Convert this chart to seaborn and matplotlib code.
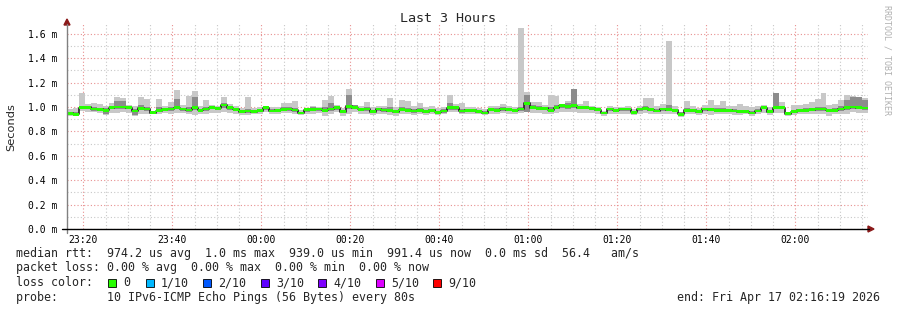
import numpy as np
import pandas as pd
import matplotlib
matplotlib.use("Agg")
import matplotlib.pyplot as plt
import seaborn as sns
from matplotlib.lines import Line2D
from matplotlib.patches import Polygon, Rectangle
from matplotlib.ticker import FixedLocator, MultipleLocator

# ---------------- data (microseconds, one value per 80 s step) ----------------
step_s = 80
median_us = [
    948, 940, 995, 997, 984, 981, 973, 995, 1000, 1000,
    995, 967, 989, 984, 954, 970, 981, 984, 995, 984,
    975, 995, 973, 984, 995, 989, 1016, 995, 981, 962,
    967, 962, 970, 995, 967, 973, 981, 984, 975, 951,
    978, 981, 984, 973, 984, 995, 962, 1005, 995, 981,
    984, 962, 984, 975, 970, 962, 978, 973, 967, 973,
    962, 973, 956, 967, 995, 995, 967,
    973, 973, 962, 951, 978, 973, 984, 978, 973, 984,
    1030, 995, 989, 989, 973, 995, 1011, 1005, 1011, 995,
    995, 989, 978, 951, 984, 973, 984, 984, 956, 984,
    989, 978, 967, 984, 978, 973, 940, 973, 973, 962,
    984, 978, 973, 973, 973, 967, 962, 962, 951, 967,
    995, 962, 995, 995, 945, 962, 973, 973, 978, 984,
    984, 973, 973, 984, 995, 1000, 995, 991,
]
ping_max_us = [
    981, 989, 1115, 1022, 1030, 1025, 1011, 1030, 1079, 1077,
    1016, 1005, 1079, 1066, 967, 1066, 1011, 1044, 1142, 1016,
    1093, 1131, 1011, 1060, 1016, 1011, 1082, 1022, 1011, 989,
    1079, 995, 1000, 1011, 1000, 1000, 1030, 1030, 1049, 973,
    995, 1011, 1000, 1057, 1093, 1016, 989, 1148, 1016, 1011,
    1044, 1000, 1011, 1011, 1071, 1000, 1057, 1049, 1011, 1030,
    1000, 1011, 989, 1000, 1098, 1022, 1030,
    1000, 1000, 989, 984, 1011, 1005, 1022, 1011, 1000, 1650,
    1120, 1038, 1038, 1016, 1098, 1093, 1022, 1049, 1148, 1022,
    1049, 1011, 1000, 967, 1005, 1000, 1000, 1011, 984, 1011,
    1071, 1071, 1005, 1022, 1540, 1011, 962, 1049, 1011, 995,
    1016, 1060, 1016, 1049, 1011, 1011, 1022, 1005, 1000, 1011,
    1016, 1000, 1115, 1044, 962, 1016, 1016, 1022, 1044, 1066,
    1115, 1016, 1022, 1060, 1098, 1087, 1082, 1071,
]
ping_min_us = [
    929, 923, 967, 962, 956, 951, 934, 951, 951, 956,
    951, 923, 945, 945, 940, 940, 951, 945, 951, 951,
    945, 934, 940, 945, 951, 951, 962, 951, 940, 934,
    934, 940, 940, 956, 945, 945, 951, 951, 945, 934,
    940, 940, 951, 923, 940, 962, 929, 940, 956, 945,
    940, 934, 945, 945, 934, 929, 945, 940, 934, 945,
    934, 945, 934, 940, 962, 956, 940,
    945, 945, 940, 934, 945, 945, 951, 945, 945, 951,
    962, 951, 951, 945, 940, 951, 962, 956, 962, 951,
    951, 951, 945, 929, 945, 940, 945, 945, 934, 945,
    951, 945, 940, 945, 945, 940, 918, 940, 940, 934,
    945, 934, 940, 940, 940, 934, 934, 940, 929, 940,
    951, 934, 951, 951, 923, 934, 945, 940, 940, 945,
    940, 929, 940, 945, 945, 956, 951, 951,
]
smoke_hi_us = [
    960, 955, 1010, 1010, 1000, 995, 990, 1005, 1049, 1049,
    1005, 985, 1020, 1000, 962, 1000, 990, 1000, 1066, 995,
    1000, 1082, 985, 1000, 1005, 1000, 1030, 1005, 990, 975,
    985, 975, 985, 1005, 980, 985, 1000, 1000, 990, 962,
    990, 1000, 995, 1000, 1030, 1005, 975, 1098, 1016, 995,
    1000, 975, 995, 990, 1000, 975, 1000, 995, 980, 990,
    975, 985, 970, 980, 1030, 1005, 985,
    985, 985, 975, 965, 990, 990, 1000, 990, 985, 1000,
    1098, 1016, 1005, 1000, 1000, 1016, 1022, 1030, 1148, 1011,
    1010, 1000, 990, 962, 995, 985, 995, 995, 970, 995,
    1010, 995, 985, 995, 1020, 985, 955, 990, 985, 975,
    995, 995, 990, 990, 985, 985, 975, 975, 965, 980,
    1011, 975, 1115, 1010, 955, 975, 985, 990, 995, 1000,
    1000, 985, 990, 1010, 1060, 1082, 1082, 1060,
]
smoke_lo_us = [
    938, 932, 980, 982, 970, 968, 940, 980, 984, 984,
    980, 934, 975, 970, 945, 958, 966, 970, 980, 968,
    962, 978, 960, 970, 980, 975, 995, 978, 968, 948,
    954, 950, 956, 978, 955, 960, 965, 970, 962, 940,
    962, 966, 970, 958, 968, 978, 948, 985, 980, 966,
    968, 950, 968, 962, 956, 948, 964, 960, 952, 958,
    948, 960, 944, 954, 978, 975, 954,
    960, 960, 950, 940, 965, 960, 970, 965, 960, 970,
    962, 980, 975, 975, 960, 980, 990, 985, 990, 980,
    980, 975, 965, 940, 970, 960, 970, 970, 945, 970,
    975, 965, 955, 970, 965, 960, 930, 960, 960, 950,
    970, 965, 960, 960, 960, 955, 950, 950, 940, 955,
    980, 950, 980, 980, 935, 950, 960, 960, 965, 970,
    970, 960, 960, 970, 975, 985, 980, 978,
]
assert len(median_us) == len(ping_max_us) == len(ping_min_us) == len(smoke_hi_us) == len(smoke_lo_us)

x_major_labels = ["23:20", "23:40", "00:00", "00:20", "00:40", "01:00", "01:20", "01:40", "02:00"]
first_label_s = 221          # 23:20:00 relative to start 23:16:19
span_s = 10800
y_ticks_ms = [0.0, 0.2, 0.4, 0.6, 0.8, 1.0, 1.2, 1.4, 1.6]

loss_labels = ["0", "1/10", "2/10", "3/10", "4/10", "5/10", "9/10"]
loss_colors = ["#26ff00", "#00b8ff", "#0059ff", "#5e00ff", "#7e00ff", "#dd00ff", "#ff0000"]

# ---------------- figure ----------------
sns.set_theme(style="white")
plt.rcParams["font.family"] = ["DejaVu Sans Mono", "DejaVu Sans"]

W, H = 897, 310
fig = plt.figure(figsize=(W / 100, H / 100), dpi=100)
fig.patch.set_facecolor("white")
L, R, T, B = 67, 868, 24, 229


def fx(x):
    return x / W


def fy(y):
    return 1 - y / H


ax = fig.add_axes([fx(L), fy(B), (R - L) / W, (B - T) / H])
ax.set_facecolor("white")

n = len(median_us)
t = np.arange(n + 1) * step_s


def ext(a):
    a = np.asarray(a, dtype=float) / 1000.0
    return np.append(a, a[-1])


med = ext(median_us)
ax.fill_between(t, ext(ping_min_us), ext(ping_max_us), step="post", color="#c8c8c8", lw=0, zorder=2)
ax.fill_between(t, ext(smoke_lo_us), ext(smoke_hi_us), step="post", color="#8c8c8c", lw=0, zorder=3)

df = pd.DataFrame({"t": t, "median": med})
sns.lineplot(data=df, x="t", y="median", drawstyle="steps-post", color="#202020", lw=1.2, ax=ax, zorder=4)
ax.fill_between(t, med - 0.011, med + 0.011, step="post", color=loss_colors[0], lw=0, zorder=5)

ax.set_xlim(0, span_s)
ax.set_ylim(0, 1.68)

major_x = [first_label_s + 1200 * i for i in range(len(x_major_labels))]
minor_x = [first_label_s + 300 * i for i in range(36) if first_label_s + 300 * i < span_s]
ax.xaxis.set_major_locator(FixedLocator(major_x))
ax.xaxis.set_minor_locator(FixedLocator(minor_x))
ax.set_xticklabels(x_major_labels)
ax.yaxis.set_major_locator(FixedLocator(y_ticks_ms))
ax.yaxis.set_minor_locator(MultipleLocator(0.1))
ax.set_yticklabels([f"{v:.1f} m" for v in y_ticks_ms])

ax.grid(which="major", color="#e89090", linestyle=(0, (1, 2)), lw=0.8, zorder=1)
ax.grid(which="minor", color="#c8c8c8", linestyle=(0, (1, 2)), lw=0.8, zorder=1)
ax.set_axisbelow(True)

ax.tick_params(axis="x", which="major", length=3, width=0.8, color="#e05050", direction="in",
               pad=4, labelsize=7, labelcolor="#000000")
ax.tick_params(axis="x", which="minor", length=2, width=0.8, color="#b0b0b0", direction="in")
ax.tick_params(axis="y", which="major", length=3, width=0.8, color="#e05050", direction="in",
               pad=7, labelsize=7, labelcolor="#000000")
ax.tick_params(axis="y", which="minor", length=2, width=0.8, color="#b0b0b0", direction="in")
for lab in ax.get_xticklabels() + ax.get_yticklabels():
    lab.set_family("DejaVu Sans Mono")
ax.set_xlabel("")
ax.set_ylabel("")
for s in ax.spines.values():
    s.set_visible(False)

# axes lines & arrows
fig.add_artist(Line2D([fx(L), fx(L)], [fy(233), fy(24)], color="#808080", lw=1.0, transform=fig.transFigure))
fig.add_artist(Line2D([fx(62), fx(869)], [fy(B), fy(B)], color="#000000", lw=1.0, transform=fig.transFigure))
fig.add_artist(Polygon([[fx(64), fy(25)], [fx(70), fy(25)], [fx(67), fy(19)]], closed=True,
                       color="#8b1a1a", transform=fig.transFigure))
fig.add_artist(Polygon([[fx(868), fy(226)], [fx(868), fy(232)], [fx(874), fy(229)]], closed=True,
                       color="#8b1a1a", transform=fig.transFigure))

# titles
fig.text(fx(448), fy(19), "Last 3 Hours", ha="center", va="center", fontsize=9.6,
         family="DejaVu Sans Mono")
fig.text(fx(11), fy(127), "Seconds", ha="center", va="center", rotation=90, fontsize=8.2,
         family="DejaVu Sans")
fig.text(fx(887), fy(5), "RRDTOOL / TOBI OETIKER", ha="center", va="top", rotation=270,
         fontsize=6, color="#b0b0b0", family="DejaVu Sans Mono")

# legend text
fs = 8.4
mono = "DejaVu Sans Mono"
fig.text(fx(16), fy(254), "median rtt:  974.2 us avg  1.0 ms max  939.0 us min  991.4 us now  0.0 ms sd  56.4   am/s",
         ha="left", va="center", fontsize=fs, family=mono)
fig.text(fx(16), fy(268), "packet loss: 0.00 % avg  0.00 % max  0.00 % min  0.00 % now",
         ha="left", va="center", fontsize=fs, family=mono)
fig.text(fx(16), fy(283), "loss color:", ha="left", va="center", fontsize=fs, family=mono)
box_x = [108, 146, 203, 261, 318, 376, 433]
for bx, lab, col in zip(box_x, loss_labels, loss_colors):
    fig.add_artist(Rectangle((fx(bx), fy(287)), 8 / W, 8 / H, facecolor=col, edgecolor="#000000",
                             lw=0.6, transform=fig.transFigure))
    fig.text(fx(bx + 15), fy(283), lab, ha="left", va="center", fontsize=fs, family=mono)
fig.text(fx(16), fy(297), "probe:       10 IPv6-ICMP Echo Pings (56 Bytes) every 80s",
         ha="left", va="center", fontsize=fs, family=mono)
fig.text(fx(880), fy(297), "end: Fri Apr 17 02:16:19 2026", ha="right", va="center", fontsize=fs, family=mono)

fig.savefig("out.png", dpi=100, facecolor="white")
